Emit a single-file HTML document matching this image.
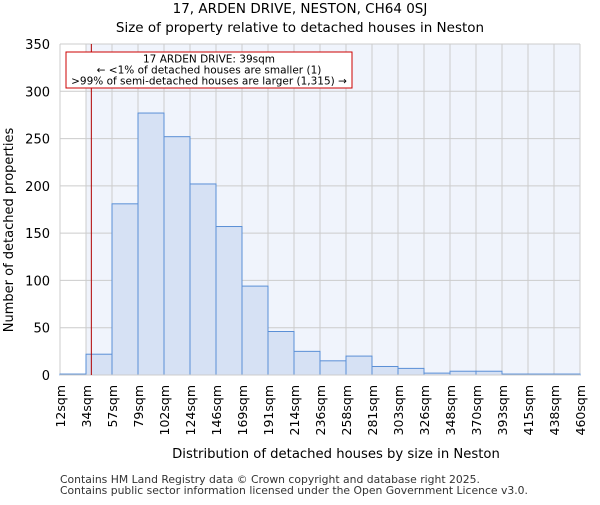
<!DOCTYPE html>
<html><head><meta charset="utf-8"><style>
body{margin:0;background:#fff;font-family:"Liberation Sans","DejaVu Sans",sans-serif;}
</style></head><body>
<svg width="600" height="500" xmlns="http://www.w3.org/2000/svg" font-family="DejaVu Sans, Liberation Sans, sans-serif">
<text x="300" y="13" text-anchor="middle" font-size="13.5">17, ARDEN DRIVE, NESTON, CH64 0SJ</text>
<text x="300" y="32" text-anchor="middle" font-size="13.5">Size of property relative to detached houses in Neston</text>
<g id="plot"></g>
<text x="336" y="458" text-anchor="middle" font-size="13.2">Distribution of detached houses by size in Neston</text>
<text transform="translate(13,230) rotate(-90)" text-anchor="middle" font-size="13">Number of detached properties</text>
<text x="60" y="483" font-size="10.8" fill="#333">Contains HM Land Registry data © Crown copyright and database right 2025.</text>
<text x="60" y="494" font-size="10.8" fill="#333">Contains public sector information licensed under the Open Government Licence v3.0.</text>
</svg>
<script>
const categories=["12sqm","34sqm","57sqm","79sqm","102sqm","124sqm","146sqm","169sqm","191sqm","214sqm","236sqm","258sqm","281sqm","303sqm","326sqm","348sqm","370sqm","393sqm","415sqm","438sqm","460sqm"];
const counts=[1,22,181,277,252,202,157,94,46,25,15,20,9,7,2,4,4,1,1,1];
const yTicks=[0,50,100,150,200,250,300,350];
const binStart=12, binWidth=22.4, propertySize=39;
const X0=60,X1=580,Y0=375,Y1=44,YMAX=350;
const NS="http://www.w3.org/2000/svg";
const g=document.getElementById('plot');
const bw=(X1-X0)/counts.length;
const xs=i=>X0+i*bw;
const ys=v=>Y0-(v/YMAX)*(Y0-Y1);
const xv=v=>X0+(v-binStart)/binWidth*bw;
function mk(t,a){const e=document.createElementNS(NS,t);for(const k in a)e.setAttribute(k,a[k]);g.appendChild(e);return e;}
const bg=mk('rect',{x:xs(1),y:Y1,width:X1-xs(1),height:Y0-Y1,fill:'#f0f4fc'});


yTicks.forEach(t=>{
  const l=mk('line',{x1:X0,x2:X1,y1:ys(t),y2:ys(t),stroke:'#ccc','stroke-width':1});
  
  
  const tx=mk('text',{x:X0-10,y:ys(t)+5,'text-anchor':'end','font-size':13});
  tx.textContent=t;
  
  
});
categories.forEach((c,i)=>{
  const l=mk('line',{x1:xs(i),x2:xs(i),y1:Y1,y2:Y0,stroke:'#ccc','stroke-width':1});
  
  
  const tx=mk('text',{transform:`translate(${xs(i)+5},${Y0+10}) rotate(-90)`,'text-anchor':'end','font-size':12.5});
  tx.textContent=c;
  
  
});
counts.forEach((v,i)=>{
  const r=mk('rect',{x:xs(i),y:ys(v),width:bw,height:Y0-ys(v),fill:'#d6e1f4',stroke:'#5a8fd6','stroke-width':1});
  
  
});
const ax=mk('line',{x1:X0,x2:X1,y1:Y0,y2:Y0,stroke:'#ccc'});


const ml=mk('line',{x1:xv(propertySize),x2:xv(propertySize),y1:Y1,y2:Y0,stroke:'#b00000','stroke-width':1});


const box=mk('rect',{x:66,y:52,width:286,height:36,fill:'#fff',stroke:'#c00','stroke-width':1});


["17 ARDEN DRIVE: 39sqm","← <1% of detached houses are smaller (1)",">99% of semi-detached houses are larger (1,315) →"].forEach((s,i)=>{
  const t=mk('text',{x:209,y:62.5+i*11,'text-anchor':'middle','font-size':10.5});
  t.textContent=s;
  
  
});
</script>
</body></html>
